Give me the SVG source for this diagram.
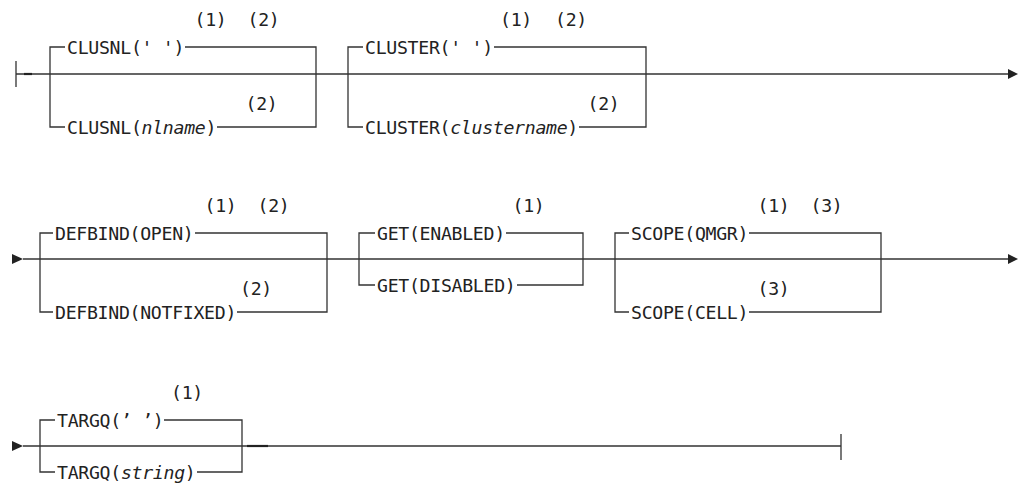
<svg xmlns="http://www.w3.org/2000/svg" width="1019" height="483" viewBox="0 0 1019 483">
<style>
text{font-family:"DejaVu Sans Mono","Liberation Mono",monospace;font-size:18.2px;letter-spacing:-0.3px;fill:#222}
.i{font-style:italic}
.ln{fill:none;stroke:#333;stroke-width:1.3}
.tk{fill:none;stroke:#222;stroke-width:2.2}
.ar{fill:#222}
</style>
<rect width="1019" height="483" fill="#fff"/>
<g id="connectors">
<path class="ln" d="M16 61V87M16 74H1008"/>
<path class="tk" d="M24 74H32"/>
<path class="ar" d="M1008 69L1018 74L1008 79Z"/>
<path class="ar" d="M12 254L23 259L12 264Z"/>
<path class="ln" d="M23 259H1008"/>
<path class="ar" d="M1008 254L1018 259L1008 264Z"/>
<path class="ar" d="M12 441L23 446L12 451Z"/>
<path class="ln" d="M23 446H841M841 434V460"/>
<path class="tk" d="M247 446H268"/>
</g>
<g id="clusnl">
<path class="ln" d="M65 47H50V127H65M185 47H316V127H217"/>
<text x="67" y="53.6">CLUSNL(' ')</text>
<text x="194.5" y="25.5">(1)</text>
<text x="247.5" y="25.5">(2)</text>
<text x="67" y="133.6">CLUSNL(<tspan class="i">nlname</tspan>)</text>
<text x="245.5" y="110">(2)</text>
</g>
<g id="cluster">
<path class="ln" d="M363 47H348V127H363M494 47H646V127H579"/>
<text x="365" y="53.6">CLUSTER(' ')</text>
<text x="500" y="25.5">(1)</text>
<text x="555" y="25.5">(2)</text>
<text x="365" y="133.6">CLUSTER(<tspan class="i">clustername</tspan>)</text>
<text x="587.5" y="110">(2)</text>
</g>
<g id="defbind">
<path class="ln" d="M53 233H40V312H53M195 233H327V312H237"/>
<text x="55" y="239.6">DEFBIND(OPEN)</text>
<text x="204.5" y="211.5">(1)</text>
<text x="257.5" y="211.5">(2)</text>
<text x="55" y="318.6">DEFBIND(NOTFIXED)</text>
<text x="240" y="295">(2)</text>
</g>
<g id="get">
<path class="ln" d="M375 233H359V285H375M506 233H583V285H517"/>
<text x="377" y="239.6">GET(ENABLED)</text>
<text x="512.5" y="211.5">(1)</text>
<text x="377" y="291.6">GET(DISABLED)</text>
</g>
<g id="scope">
<path class="ln" d="M629 233H615V312H629M749 233H881V312H749"/>
<text x="631" y="239.6">SCOPE(QMGR)</text>
<text x="757.5" y="211.5">(1)</text>
<text x="810.5" y="211.5">(3)</text>
<text x="631" y="318.6">SCOPE(CELL)</text>
<text x="757.5" y="295">(3)</text>
</g>
<g id="targq">
<path class="ln" d="M55 420H40V472H55M164 420H242V472H197"/>
<text x="57" y="426.6">TARGQ(’ ’)</text>
<text x="171" y="398.5">(1)</text>
<text x="57" y="478.6">TARGQ(<tspan class="i">string</tspan>)</text>
</g>
</svg>
